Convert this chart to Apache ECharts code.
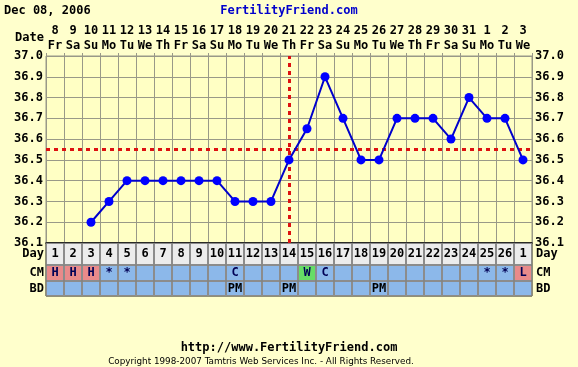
<!DOCTYPE html>
<html>
<head>
<meta charset="utf-8">
<script src="https://cdn.jsdelivr.net/npm/echarts@6/dist/echarts.min.js"></script>
<style>
html,body{margin:0;padding:0;background:#ffffcc;}
#chart{width:578px;height:367px;}
</style>
</head>
<body>
<div id="chart"></div>
<script>
// ---- data ----
const dates = ['8','9','10','11','12','13','14','15','16','17','18','19','20','21','22','23','24','25','26','27','28','29','30','31','1','2','3'];
const weekdays = ['Fr','Sa','Su','Mo','Tu','We','Th','Fr','Sa','Su','Mo','Tu','We','Th','Fr','Sa','Su','Mo','Tu','We','Th','Fr','Sa','Su','Mo','Tu','We'];
const cycleDays = ['1','2','3','4','5','6','7','8','9','10','11','12','13','14','15','16','17','18','19','20','21','22','23','24','25','26','1'];
const temps = [null,null,36.2,36.3,36.4,36.4,36.4,36.4,36.4,36.4,36.3,36.3,36.3,36.5,36.65,36.9,36.7,36.5,36.5,36.7,36.7,36.7,36.6,36.8,36.7,36.7,36.5];
const cmCodes = ['H','H','H','*','*','','','','','','C','','','','W','C','','','','','','','','','*','*','L'];
const bdCodes = ['','','','','','','','','','','PM','','','PM','','','','','PM','','','','','','','',''];
const yTicks = [36.1,37.0];
const coverline = 36.55;
const ovulationIndex = 13;
const titleDate = 'Dec 08, 2006';

// ---- styles ----
const FONT = 'DejaVu Sans Mono';
const BLUE_ROW = '#8cb8ea';
const cellColor = {H:'#e98a8a', L:'#e98a8a', W:'#66dd66'};
const L = 46, R = 578 - 532;
const chart = echarts.init(document.getElementById('chart'));

function rowSeries(idx, labels, colorFn, textColor) {
  return {
    type:'bar', xAxisIndex:idx, yAxisIndex:idx, barWidth:'100%', barCategoryGap:0,
    silent:true, animation:false,
    data: labels.map((t,i)=>({value:1, itemStyle:{color:colorFn(t,i)}})),
    itemStyle:{borderColor:'#8c8c8c', borderWidth:1},
    label:{show:true, position:'inside', formatter:p=>labels[p.dataIndex],
      fontFamily:FONT, fontWeight:'bold', fontSize:12, color:textColor}
  };
}
function rowAxes(gi) {
  return {
    x:{type:'category', gridIndex:gi, data:dates, axisLine:{show:false}, axisTick:{show:false}, axisLabel:{show:false}},
    y:{type:'value', gridIndex:gi, min:0, max:1, show:false}
  };
}
const rows = [rowAxes(1), rowAxes(2), rowAxes(3)];
const txt = (x,y,s,align,extra)=>Object.assign({type:'text', x:x, y:y, style:Object.assign({text:s, fontFamily:FONT, fontWeight:'bold', fontSize:12, fill:'#000', align:align, verticalAlign:'middle'}, extra||{})});

chart.setOption({
  backgroundColor:'#ffffcc',
  animation:false,
  grid:[
    {left:L, right:R, top:56, height:187, show:true, backgroundColor:'#ffffc4', borderColor:'#999988', borderWidth:1},
    {left:L, right:R, top:243, height:22, show:true, borderColor:'#222', borderWidth:1},
    {left:L, right:R, top:265, height:16, show:true, borderColor:'#222', borderWidth:1},
    {left:L, right:R, top:281, height:15, show:true, borderColor:'#222', borderWidth:1}
  ],
  xAxis:[
    {type:'category', gridIndex:0, data:dates, position:'bottom',
      axisLine:{show:true, lineStyle:{color:'#111', width:1.5}}, axisTick:{show:false}, axisLabel:{show:false},
      splitLine:{show:true, lineStyle:{color:'#999988', width:1}}},
    {type:'category', gridIndex:0, data:dates, position:'top',
      axisLine:{show:false}, axisTick:{show:true, length:3, lineStyle:{color:'#999988'}},
      axisLabel:{show:true, interval:0, margin:3,
        formatter:(v,i)=>'{a|'+v+'}\n{b|'+weekdays[i]+'}',
        rich:{a:{fontFamily:FONT, fontWeight:'bold', fontSize:12, lineHeight:15, color:'#000'},
              b:{fontFamily:FONT, fontWeight:'bold', fontSize:12, lineHeight:15, color:'#000'}}}},
    rows[0].x, rows[1].x, rows[2].x
  ],
  yAxis:[
    {type:'value', gridIndex:0, min:yTicks[0], max:yTicks[1], interval:0.1, position:'left',
      axisLine:{show:false}, axisTick:{show:false},
      axisLabel:{margin:3, formatter:v=>v.toFixed(1), fontFamily:FONT, fontWeight:'bold', fontSize:12, color:'#000'},
      splitLine:{show:true, lineStyle:{color:'#999988', width:1}}},
    {type:'value', gridIndex:0, min:yTicks[0], max:yTicks[1], interval:0.1, position:'right',
      axisLine:{show:false}, axisTick:{show:false}, splitLine:{show:false},
      axisLabel:{margin:3, formatter:v=>v.toFixed(1), fontFamily:FONT, fontWeight:'bold', fontSize:12, color:'#000'}},
    rows[0].y, rows[1].y, rows[2].y
  ],
  series:[
    {type:'line', xAxisIndex:0, yAxisIndex:0, data:temps, symbol:'circle', symbolSize:9,
      lineStyle:{color:'#0000cc', width:2}, itemStyle:{color:'#0000ff'}, z:5,
      markLine:{silent:true, symbol:'none', label:{show:false},
        lineStyle:{color:'#dd1111', width:3, type:[4,4]},
        data:[{yAxis:coverline},{xAxis:ovulationIndex}]}},
    rowSeries(2, cycleDays, ()=> '#ececec', '#000'),
    rowSeries(3, cmCodes, t=> cellColor[t] || BLUE_ROW, '#000055'),
    rowSeries(4, bdCodes, ()=> BLUE_ROW, '#000')
  ],
  graphic:[
    txt(4, 11, titleDate, 'left'),
    txt(289, 11, 'FertilityFriend.com', 'center', {fill:'#0000cc'}),
    txt(44, 38, 'Date', 'right'),
    txt(44, 254, 'Day', 'right'),
    txt(44, 273, 'CM', 'right'),
    txt(44, 289, 'BD', 'right'),
    txt(536, 254, 'Day', 'left'),
    txt(536, 273, 'CM', 'left'),
    txt(536, 289, 'BD', 'left'),
    txt(289, 348, 'http://www.FertilityFriend.com', 'center'),
    txt(261, 362, 'Copyright 1998-2007 Tamtris Web Services Inc. - All Rights Reserved.', 'center', {fontFamily:'DejaVu Sans', fontWeight:'normal', fontSize:8.8})
  ]
});
</script>
</body>
</html>
